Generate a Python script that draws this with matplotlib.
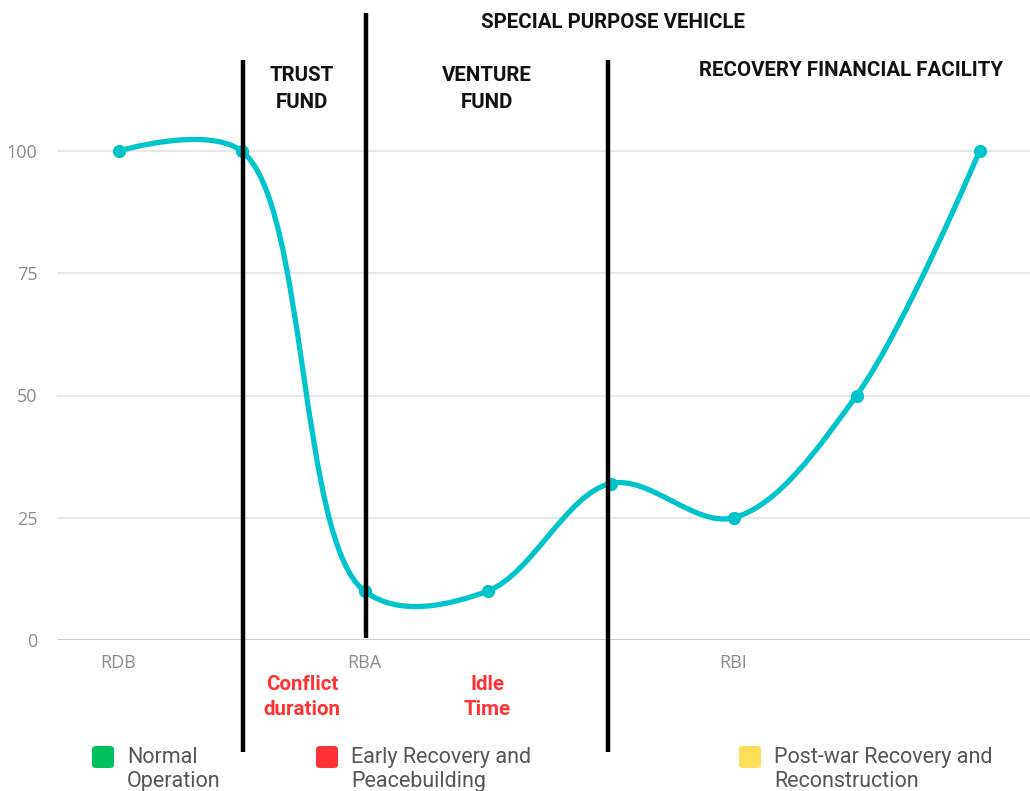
import numpy as np
import matplotlib
matplotlib.use('Agg')
import matplotlib.pyplot as plt
from matplotlib.path import Path
from matplotlib.patches import PathPatch, FancyBboxPatch
import matplotlib.transforms as mtransforms

# ---- data ----
categories = ['RDB', '', 'RBA', '', '', 'RBI', '', '']
values = [100, 100, 10, 10, 32, 25, 50, 100]
y_ticks = [0, 25, 50, 75, 100]
divider_idx = [1, 2, 4]          # category index where vertical dividers sit
phase_titles = ['TRUST\nFUND', 'VENTURE\nFUND', 'SPECIAL PURPOSE VEHICLE', 'RECOVERY FINANCIAL FACILITY']
phase_notes = ['Conflict\nduration', 'Idle\nTime']
legend_labels = ['Normal\nOperation', 'Early Recovery and\nPeacebuilding', 'Post-war Recovery and\nReconstruction']
legend_colors = ['#00C060', '#FF3333', '#FFDE59']

W, H = 1030, 791
fig = plt.figure(figsize=(W / 100, H / 100), dpi=100)
fig.patch.set_facecolor('white')

def fx(x):
    return x / W

def fy(y):
    return 1 - y / H

ax = fig.add_axes([fx(57), fy(640), fx(1030) - fx(57), 130 * 4.89 / H])
ax.set_xlim(-0.5, 7.41)
ax.set_ylim(0, 130)
for s in ax.spines.values():
    s.set_visible(False)
ax.set_yticks(y_ticks)
ax.set_yticklabels([str(v) for v in y_ticks], fontfamily='Open Sans', fontsize=13, color='#8C8C8C')
ax.set_xticks(range(len(categories)))
ax.set_xticklabels(categories, fontfamily='Open Sans', fontsize=13, color='#8C8C8C')
ax.tick_params(axis='both', length=0)
ax.tick_params(axis='y', pad=14)
ax.tick_params(axis='x', pad=10)
for v in y_ticks:
    ax.axhline(v, color='#C8C8C8' if v == 0 else '#E6E6E6', lw=1.3, zorder=0)

# ---- smooth curve (centripetal Catmull-Rom, computed in display space) ----
xs = np.arange(len(values), dtype=float)
pts_disp = ax.transData.transform(np.column_stack([xs, values]))

def catmull_rom(P, alpha=0.5):
    n = len(P)
    verts = [P[0]]
    codes = [Path.MOVETO]
    eps = 1e-12
    d = lambda a, b: np.hypot(*(a - b))
    for i in range(n - 1):
        p1, p2 = P[i], P[i + 1]
        l12 = d(p1, p2)
        l12_a, l12_2a = l12 ** alpha, l12 ** (2 * alpha)
        c1 = p1.copy()
        if i > 0:
            p0 = P[i - 1]
            l01 = d(p0, p1)
            l01_a, l01_2a = l01 ** alpha, l01 ** (2 * alpha)
            if l01_a > eps:
                a = 2 * l01_2a + 3 * l01_a * l12_a + l12_2a
                nn = 3 * l01_a * (l01_a + l12_a)
                c1 = (p1 * a - p0 * l12_2a + p2 * l01_2a) / nn
        c2 = p2.copy()
        if i + 2 < n:
            p3 = P[i + 2]
            l23 = d(p2, p3)
            l23_a, l23_2a = l23 ** alpha, l23 ** (2 * alpha)
            if l23_a > eps:
                b = 2 * l23_2a + 3 * l23_a * l12_a + l12_2a
                m = 3 * l23_a * (l23_a + l12_a)
                c2 = (p2 * b + p1 * l23_2a - p3 * l12_2a) / m
        verts += [c1, c2, p2]
        codes += [Path.CURVE4] * 3
    return np.array(verts), codes

v_disp, codes = catmull_rom(pts_disp)
v_data = ax.transData.inverted().transform(v_disp)
line_color = '#00C4CC'
ax.add_patch(PathPatch(Path(v_data, codes), facecolor='none', edgecolor=line_color,
                       lw=3.8, capstyle='round', joinstyle='round', zorder=3))
ax.plot(xs, values, 'o', color=line_color, ms=8.5, zorder=4, clip_on=False)

# ---- vertical dividers ----
blend = mtransforms.blended_transform_factory(ax.transData, fig.transFigure)
spans = [(fy(752), fy(60)), (fy(638), fy(13)), (fy(752), fy(60))]
for idx, (y0, y1) in zip(divider_idx, spans):
    xdiv = idx + (0.01 if idx != 4 else -0.02)
    fig.add_artist(plt.Line2D([xdiv, xdiv], [y0, y1], transform=blend, color='black',
                              lw=3.2, solid_capstyle='butt', zorder=5))

# ---- phase titles ----
hfont = dict(fontfamily='Roboto', fontweight='bold', fontsize=14.8, color='#111111',
             ha='center', va='center', linespacing=1.47)
fig.text(fx(302), fy(89), phase_titles[0], **hfont)
fig.text(fx(487), fy(89), phase_titles[1], **hfont)
fig.text(fx(613), fy(22.5), phase_titles[2], **hfont)
fig.text(fx(851), fy(71), phase_titles[3], **hfont)

nfont = dict(fontfamily='Roboto', fontweight='bold', fontsize=14.8, color='#FF3333',
             ha='center', va='center', linespacing=1.4)
fig.text(fx(302), fy(697), phase_notes[0], **nfont)
fig.text(fx(487), fy(697), phase_notes[1], **nfont)

# ---- legend ----
leg_x = [92, 316, 739]
for x0, lab, col in zip(leg_x, legend_labels, legend_colors):
    fig.add_artist(FancyBboxPatch((fx(x0), fy(768)), fx(22), 22 / H,
                                  boxstyle='round,pad=0,rounding_size=0.004',
                                  transform=fig.transFigure, facecolor=col, edgecolor='none'))
    fig.text(fx(x0 + 35), fy(769.5), lab, fontfamily='Roboto', fontsize=15.5, color='#555555',
             ha='left', va='center', linespacing=1.22)

fig.savefig('out.png', dpi=100, facecolor='white')
